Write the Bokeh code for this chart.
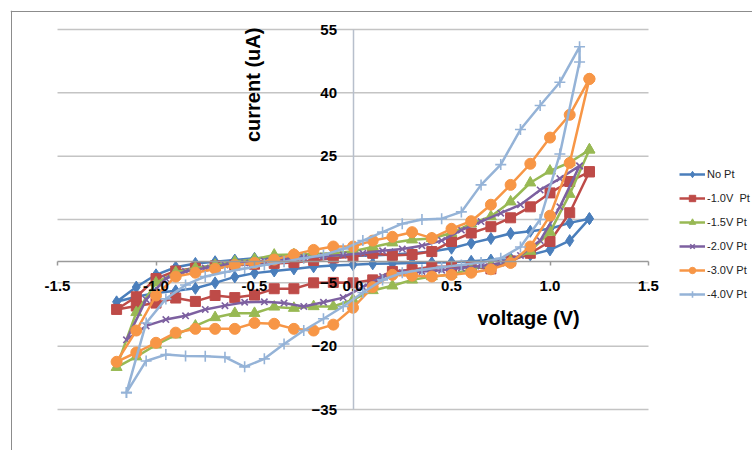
from math import pi
from bokeh.plotting import figure
from bokeh.models import Range1d, FixedTicker, Label, Span, NumeralTickFormatter
from bokeh.embed import file_html
from bokeh.resources import INLINE

# ---------------- data ----------------
x_ticks = [-1.5, -1.0, -0.5, 0.0, 0.5, 1.0, 1.5]
y_ticks = [-35, -20, -5, 10, 25, 40, 55]

series_names = ["No Pt", "-1.0V  Pt", "-1.5V Pt", "-2.0V Pt", "-3.0V Pt", "-4.0V Pt"]

# potentials for the series sampled on the 0.1 V grid (cathodic sweep then anodic sweep)
grid_x = [1.2, 1.1, 1.0, 0.9, 0.8, 0.7, 0.6, 0.5, 0.4, 0.3, 0.2, 0.1, 0.0,
          -0.1, -0.2, -0.3, -0.4, -0.5, -0.6, -0.7, -0.8, -0.9, -1.0, -1.1, -1.2,
          -1.1, -1.0, -0.9, -0.8, -0.7, -0.6, -0.5, -0.4, -0.3, -0.2, -0.1, 0.0,
          0.1, 0.2, 0.3, 0.4, 0.5, 0.6, 0.7, 0.8, 0.9, 1.0, 1.1, 1.2]

no_pt_y = [10.2, 5.0, 2.8, 1.6, 0.8, 0.4, 0.1, -0.1, -0.2, -0.3, -0.4, -0.5, -0.7,
           -0.9, -1.2, -1.7, -2.2, -2.7, -3.6, -5.0, -6.3, -6.9, -7.4, -8.3, -9.5,
           -6.0, -3.1, -1.3, -0.4, 0.0, 0.4, 0.8, 1.0, 1.1, 1.2, 1.3, 1.4,
           1.5, 1.7, 2.0, 2.4, 3.2, 4.4, 5.5, 6.7, 7.2, 7.8, 9.2, 10.2]

pt10_y = [21.3, 11.6, 4.8, 2.0, 0.2, -1.7, -1.2, -1.2, -1.2, -1.9, -2.3, -4.3, -5.0,
          -4.9, -5.0, -6.4, -6.4, -7.9, -8.5, -8.0, -9.4, -8.6, -9.8, -10.5, -11.3,
          -8.3, -4.0, -2.2, -1.5, -1.0, -0.8, -0.6, -0.4, -0.2, 0.3, 0.9, 1.2,
          2.0, 1.5, 1.7, 2.4, 4.8, 6.8, 8.3, 10.4, 13.0, 16.3, 19.0, 21.3]

pt15_y = [26.5, 16.0, 7.0, 2.5, 0.2, -0.8, -1.8, -3.0, -3.5, -4.3, -5.7, -6.8, -9.0,
          -10.6, -10.6, -11.0, -10.7, -12.2, -12.2, -13.2, -15.2, -17.3, -19.7, -22.5, -25.0,
          -12.0, -5.0, -2.5, -1.5, -0.8, 0.0, 0.6, 1.6, 1.7, 1.8, 2.0, 2.5,
          3.5, 4.5, 5.2, 5.5, 6.8, 9.0, 10.7, 14.2, 18.7, 21.5, 23.5, 26.5]

pt30_y = [43.3, 23.4, 10.9, 3.6, -0.3, -1.8, -2.6, -3.1, -3.5, -3.3, -3.1, -6.0, -10.9,
          -14.9, -16.3, -15.9, -14.7, -14.5, -15.9, -15.9, -15.9, -16.8, -19.2, -21.5, -23.7,
          -16.3, -8.0, -3.5, -2.6, -1.7, -0.8, -0.3, 0.5, 1.7, 2.8, 3.6, 3.6,
          5.0, 5.9, 7.0, 5.6, 7.8, 9.6, 13.5, 18.2, 23.2, 29.4, 34.8, 43.3]

# series sampled on the odd 0.05 V grid
pt20_x = [1.15, 1.05, 0.95, 0.85, 0.75, 0.65, 0.55, 0.45, 0.35, 0.25, 0.15, 0.05,
          -0.05, -0.15, -0.25, -0.35, -0.45, -0.55, -0.65, -0.75, -0.85, -0.95, -1.05, -1.15,
          -1.05, -0.95, -0.85, -0.75, -0.65, -0.55, -0.45, -0.35, -0.25, -0.15, -0.05,
          0.05, 0.15, 0.25, 0.35, 0.45, 0.55, 0.65, 0.75, 0.85, 0.95, 1.05, 1.15]
pt20_y = [22.7, 13.0, 5.0, 1.5, -0.3, -1.0, -1.5, -2.0, -2.3, -2.6, -3.5, -6.0,
          -8.5, -9.6, -10.6, -9.8, -9.5, -9.6, -10.4, -11.3, -12.8, -13.7, -15.2, -18.5,
          -9.0, -4.0, -2.3, -1.5, -0.8, -0.3, 0.2, 0.6, 1.0, 1.3, 1.6,
          2.0, 2.6, 3.0, 3.8, 5.0, 7.5, 9.5, 11.5, 13.5, 17.0, 19.7, 22.7]

pt40_x = [-1.15, -1.05, -0.95, -0.85, -0.75, -0.65, -0.55, -0.45, -0.35, -0.25, -0.15, -0.05,
          0.05, 0.15, 0.25, 0.35, 0.45, 0.55, 0.65, 0.75, 0.85, 0.95, 1.05, 1.15,
          1.15, 1.05, 0.95, 0.85, 0.75, 0.65, 0.55, 0.45, 0.35, 0.25, 0.15, 0.05,
          -0.05, -0.15, -0.25, -0.35, -0.45, -0.55, -0.65, -0.75, -0.85, -0.95, -1.05, -1.15]
pt40_y = [-31.0, -14.5, -8.8, -5.5, -3.5, -2.5, -1.6, -0.8, 0.0, 0.8, 1.6, 3.0,
          5.0, 7.0, 9.0, 10.0, 10.2, 11.8, 18.2, 23.0, 31.3, 37.0, 42.5, 50.9,
          47.3, 25.5, 10.0, 3.5, 0.8, -0.2, -0.8, -1.3, -1.9, -2.6, -4.3, -7.3,
          -10.6, -13.5, -16.3, -19.5, -23.0, -24.9, -22.6, -22.4, -22.3, -22.0, -23.5, -31.0]

series_x = [grid_x, grid_x, grid_x, pt20_x, grid_x, pt40_x]
series_y = [no_pt_y, pt10_y, pt15_y, pt20_y, pt30_y, pt40_y]

# ---------------- styling ----------------
colors = ["#4A7EBB", "#BE4B48", "#98B954", "#7D60A0", "#F79646", "#95B3D7"]
markers = ["diamond", "square", "triangle", "x", "circle", "cross"]
msizes = [12, 10, 11, 9, 11, 11]

W, H = 752, 450
BL, BT = 10, 10                      # frame offset (chart border at 10 px)
XR = (-1.7386, 2.0279)
YR = (-44.71, 59.5)

p = figure(width=W, height=H, output_backend="svg", toolbar_location=None,
           x_range=Range1d(*XR), y_range=Range1d(*YR),
           min_border=0, min_border_left=BL, min_border_top=BT)
p.background_fill_color = "white"
p.border_fill_color = "white"
p.outline_line_color = None
p.xgrid.visible = False
p.ygrid.visible = False

# horizontal gridlines spanning the axis extent only
p.segment(x0=x_ticks[0], x1=x_ticks[-1], y0=y_ticks, y1=y_ticks,
          line_color="#c4c4c4", line_width=1.5, level="underlay")

# axes crossing at the origin
xa = p.xaxis[0]
xa.fixed_location = 0
xa.ticker = FixedTicker(ticks=x_ticks)
xa.bounds = (x_ticks[0], x_ticks[-1])
xa.formatter = NumeralTickFormatter(format="0.0")
xa.axis_line_color = "#9a9a9a"
xa.axis_line_width = 1.5
xa.major_tick_line_color = "#9a9a9a"
xa.major_tick_line_width = 1.5
xa.major_tick_out = 4
xa.major_tick_in = 0
xa.minor_tick_out = 0
xa.minor_tick_in = 0
xa.major_label_standoff = 15
xa.major_label_text_font = "Liberation Sans"
xa.major_label_text_font_style = "bold"
xa.major_label_text_font_size = "15px"
xa.major_label_text_color = "black"

ya = p.yaxis[0]
ya.fixed_location = 0
ya.ticker = FixedTicker(ticks=y_ticks)
ya.bounds = (y_ticks[0], y_ticks[-1])
ya.axis_line_color = "#b7bfcc"
ya.axis_line_width = 1.5
ya.major_tick_out = 0
ya.major_tick_in = 0
ya.minor_tick_out = 0
ya.minor_tick_in = 0
ya.major_label_standoff = 16
ya.major_label_text_font = "Liberation Sans"
ya.major_label_text_font_style = "bold"
ya.major_label_text_font_size = "15px"
ya.major_label_text_color = "black"

# chart border (top and left edges visible in the reference)
fw = W - BL
fh = H - BT
p.add_layout(Span(location=XR[0] + 1.0 * (XR[1] - XR[0]) / fw, dimension="height",
                  line_color="#8c8c8c", line_width=1))
p.add_layout(Span(location=YR[1] - 1.0 * (YR[1] - YR[0]) / fh, dimension="width",
                  line_color="#8c8c8c", line_width=1))

# series
for name, xs, ys, c, m, s in zip(series_names, series_x, series_y, colors, markers, msizes):
    p.line(xs, ys, line_color=c, line_width=2.5, legend_label=name)
    lw = 1.6 if m in ("x", "cross") else 1
    p.scatter(xs, ys, marker=m, size=s, fill_color=c, line_color=c,
              line_width=lw, legend_label=name)

# axis titles
p.add_layout(Label(x=-0.508, y=41.9, text="current (uA)", angle=pi / 2,
                   text_align="center", text_baseline="middle",
                   text_font="Liberation Sans", text_font_style="bold",
                   text_font_size="20px", text_color="black"))
p.add_layout(Label(x=0.891, y=-13.3, text="voltage (V)",
                   text_align="center", text_baseline="middle",
                   text_font="Liberation Sans", text_font_style="bold",
                   text_font_size="20px", text_color="black"))

# legend
lg = p.legend[0]
lg.location = (669, 148)
lg.border_line_alpha = 0
lg.background_fill_alpha = 0
lg.padding = 0
lg.margin = 0
lg.spacing = 8
lg.glyph_height = 16
lg.glyph_width = 26
lg.label_height = 16
lg.label_standoff = 2
lg.label_text_font = "Liberation Sans"
lg.label_text_font_size = "11px"
lg.label_text_color = "#222222"

open("out.html", "w").write(file_html(p, INLINE))
